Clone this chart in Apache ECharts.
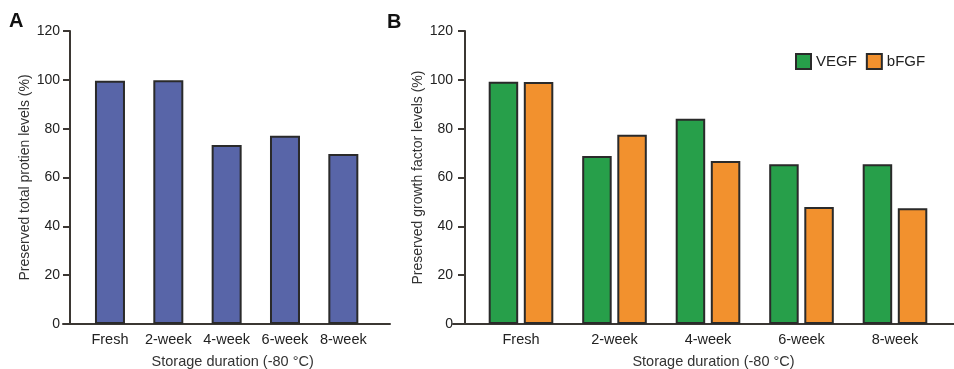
<!DOCTYPE html>
<html>
<head>
<meta charset="utf-8">
<script src="https://cdn.jsdelivr.net/npm/echarts@6/dist/echarts.min.js"></script>
<style>
html,body{margin:0;padding:0;background:#fff;}
#chart{width:954px;height:369px;}
</style>
</head>
<body>
<div id="chart"></div>
<script>
const categories = ['Fresh', '2-week', '4-week', '6-week', '8-week'];
const totalProtein = [99.6, 99.8, 73.3, 77.1, 69.6];
const vegf = [99.2, 68.8, 84.1, 65.4, 65.4];
const bfgf = [99.1, 77.5, 66.8, 47.9, 47.4];
const yMin = 0, yMax = 120, yInterval = 20;
const yNameA = 'Preserved total protien levels (%)';
const yNameB = 'Preserved growth factor levels (%)';
const xName = 'Storage duration (-80 \u00B0C)';

const FONT = '"Liberation Sans", Arial, Helvetica, sans-serif';
const AXIS_COLOR = '#3b3733';
const TEXT_COLOR = '#222';
const BORDER = '#2a2a2a';

function yAxisCfg(grid, offset, name, nameGap, labelMargin) {
  return {
    type: 'value', gridIndex: grid, min: yMin, max: yMax, interval: yInterval,
    offset: offset,
    name: name, nameLocation: 'middle', nameGap: nameGap,
    nameTextStyle: {fontFamily: FONT, fontSize: 14, color: '#333'},
    axisLine: {show: true, lineStyle: {color: AXIS_COLOR, width: 2}},
    axisTick: {show: true, length: 7, lineStyle: {color: AXIS_COLOR, width: 2}},
    axisLabel: {fontFamily: FONT, fontSize: 14, color: TEXT_COLOR, margin: labelMargin},
    splitLine: {show: false}
  };
}
function xCatCfg(grid, namePad) {
  return {
    type: 'category', gridIndex: grid, data: categories,
    name: xName, nameLocation: 'middle', nameGap: 30,
    nameTextStyle: {fontFamily: FONT, fontSize: 14.5, color: '#333', padding: [0, 0, 0, namePad]},
    axisLine: {show: false}, axisTick: {show: false},
    axisLabel: {fontFamily: FONT, fontSize: 14.5, color: TEXT_COLOR, margin: 8, interval: 0}
  };
}
function lineX(grid) {
  return {
    type: 'value', gridIndex: grid, min: 0, max: 1,
    axisLine: {show: true, onZero: false, lineStyle: {color: AXIS_COLOR, width: 2}},
    axisTick: {show: false}, axisLabel: {show: false}, splitLine: {show: false}
  };
}
function lineY(grid) {
  return {type: 'value', gridIndex: grid, min: 0, max: 1, show: false};
}
function gridCfg(left, width) {
  return {left: left, width: width, top: 31, height: 293, containLabel: false, outerBoundsMode: 'none'};
}

const chart = echarts.init(document.getElementById('chart'), null, {renderer: 'canvas'});
chart.setOption({
  backgroundColor: '#fff',
  animation: false,
  title: [
    {text: 'A', left: 9, top: 11, padding: 0, textStyle: {fontFamily: FONT, fontSize: 20, fontWeight: 'bold', color: '#111'}},
    {text: 'B', left: 387, top: 12, padding: 0, textStyle: {fontFamily: FONT, fontSize: 20, fontWeight: 'bold', color: '#111'}}
  ],
  legend: {
    left: 795, top: 53, padding: 0, itemWidth: 15, itemHeight: 15, itemGap: 9,
    icon: 'rect',
    textStyle: {fontFamily: FONT, fontSize: 15, color: TEXT_COLOR, padding: [0, 0, 0, 0]},
    data: ['VEGF', 'bFGF']
  },
  grid: [
    gridCfg(80.8, 291.7),
    gridCfg(63, 327),
    gridCfg(474.25, 467.5),
    gridCfg(453, 501)
  ],
  xAxis: [xCatCfg(0, 12), lineX(1), xCatCfg(2, 11), lineX(3)],
  yAxis: [
    yAxisCfg(0, 10.8, yNameA, 38, 10),
    lineY(1),
    yAxisCfg(2, 9.25, yNameB, 40, 12),
    lineY(3)
  ],
  series: [
    {name: 'Total protein', type: 'bar', xAxisIndex: 0, yAxisIndex: 0, data: totalProtein, barWidth: 30,
     itemStyle: {color: '#5865a8', borderColor: BORDER, borderWidth: 2}},
    {name: 'VEGF', type: 'bar', xAxisIndex: 2, yAxisIndex: 2, data: vegf, barWidth: 29.5, barGap: '19%',
     itemStyle: {color: '#279f4a', borderColor: BORDER, borderWidth: 2}},
    {name: 'bFGF', type: 'bar', xAxisIndex: 2, yAxisIndex: 2, data: bfgf, barWidth: 29.5, barGap: '19%',
     itemStyle: {color: '#f2912e', borderColor: BORDER, borderWidth: 2}}
  ]
});
</script>
</body>
</html>
